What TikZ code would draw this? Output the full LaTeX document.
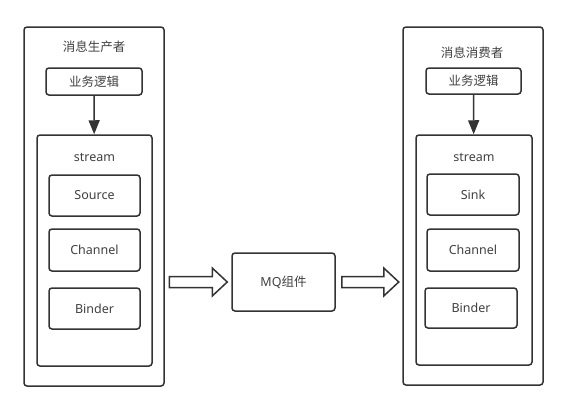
\documentclass[tikz,border=0pt]{standalone}
\usepackage{fontspec}
\setmainfont{Noto Sans}
\newfontfamily\cjk{Noto Sans CJK SC}
\usetikzlibrary{positioning,arrows.meta,calc}
\definecolor{linegray}{HTML}{333333}
\definecolor{textgray}{HTML}{404040}

\begin{document}
\begin{tikzpicture}[
x=1pt,y=-1pt,
every node/.style={
  text=textgray,
  font=\fontsize{12.5}{14}\selectfont},
box/.style={
  draw=linegray,
  line width=1.5pt,
  rounded corners=3pt,
  inner sep=0pt},
label/.style={
  inner sep=0pt},
bigarrow/.style={
  draw=linegray,
  line width=1.5pt,
  fill=white}
]
\useasboundingbox (0,0) rectangle (568,410);
% producer side
\node[box, minimum width=140, minimum height=359] (prod) at (94,206.5) {};
\node[label] (prodT) at (94,46.5) {\cjk 消息生产者};
\node[box, minimum width=96, minimum height=27] (prodLogic) at (94,81.5) {\cjk 业务逻辑};
\node[box, minimum width=115, minimum height=231] (prodStream) at (94.5,250.5) {};
\node[label] (prodS) at (94.5,157) {stream};
\node[box, minimum width=91, minimum height=41] (source) at (94.5,195.5) {Source};
\node[box, minimum width=91, minimum height=42] (prodCh) at (94.5,250) {Channel};
\node[box, minimum width=91, minimum height=41] (prodBi) at (94.5,308.5) {Binder};
\draw[draw=linegray, line width=1.5pt, -{Triangle[length=14pt,width=11pt]}]
  (prodLogic) -- (prodStream);
% consumer side
\node[box, minimum width=140, minimum height=358] (cons) at (473,206) {};
\node[label] (consT) at (472,52.5) {\cjk 消息消费者};
\node[box, minimum width=95, minimum height=26] (consLogic) at (473.5,81) {\cjk 业务逻辑};
\node[box, minimum width=116, minimum height=230] (consStream) at (474,250) {};
\node[label] (consS) at (474,157) {stream};
\node[box, minimum width=92, minimum height=41] (sink) at (473,194.5) {Sink};
\node[box, minimum width=92, minimum height=42] (consCh) at (473,250) {Channel};
\node[box, minimum width=92, minimum height=40] (consBi) at (471,308) {Binder};
\draw[draw=linegray, line width=1.5pt, -{Triangle[length=14pt,width=11pt]}]
  (consLogic) -- (consStream);
% middle
\node[box, minimum width=103, minimum height=58] (mq) at (283.5,282) {MQ\cjk 组件};
\coordinate (inTail) at ($(mq.west)+(-62,0)$);
\coordinate (outTail) at ($(mq.east)+(6,0)$);
\draw[bigarrow] ($(inTail)+(0,-5.5)$) -- ++(43,0) -- ++(0,-8.5)
  -- ($(inTail)+(58,0)$) -- ($(inTail)+(43,14)$) -- ++(0,-8.5)
  -- ($(inTail)+(0,5.5)$) -- cycle;
\draw[bigarrow] ($(outTail)+(0,-5.5)$) -- ++(42,0) -- ++(0,-8.5)
  -- ($(outTail)+(57,0)$) -- ($(outTail)+(42,14)$) -- ++(0,-8.5)
  -- ($(outTail)+(0,5.5)$) -- cycle;
\end{tikzpicture}
\end{document}
